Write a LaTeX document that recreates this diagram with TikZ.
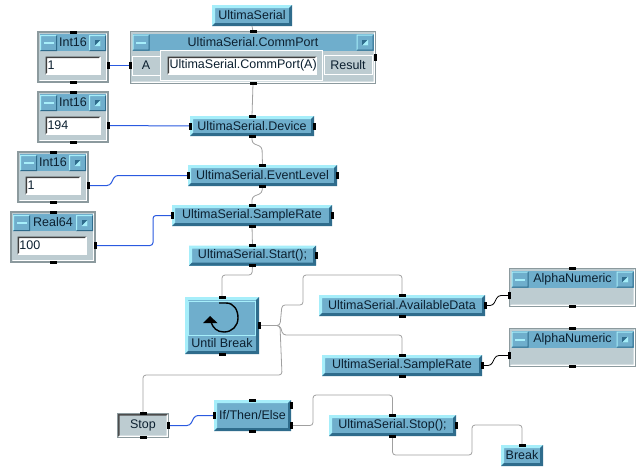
\documentclass[tikz,border=0pt]{standalone}
\usepackage{fontspec}
\setmainfont{Liberation Sans}
\usetikzlibrary{calc}

\definecolor{boxblue}{HTML}{6FAECC}
\definecolor{boxlight}{HTML}{A6EEFA}
\definecolor{boxdark}{HTML}{2F6C8C}
\definecolor{panelgrey}{HTML}{BDCCD1}
\definecolor{edgegrey}{HTML}{8C9A9E}
\definecolor{wiregrey}{HTML}{A0A0A0}
\definecolor{wireblue}{HTML}{2A5AE0}
\definecolor{textdark}{HTML}{0C2030}

\def\ppb{path picture bounding box}
\newcommand{\bevel}[3]{%
  \fill[#2] (\ppb.north west) -- (\ppb.north east) -- ++(-#1,#1) -- ($(\ppb.north west)+(#1,#1)$)
    -- ($(\ppb.south west)+(#1,-#1)$) -- (\ppb.south west) -- cycle;
  \fill[#3] (\ppb.south east) -- (\ppb.north east) -- ++(-#1,#1) -- ($(\ppb.south east)+(-#1,-#1)$)
    -- ($(\ppb.south west)+(#1,-#1)$) -- (\ppb.south west) -- cycle;}

\tikzset{
  allbox/.style={rectangle, inner sep=0pt, outer sep=0pt, text=textdark, font=\fontsize{12.5}{14}\selectfont},
  formula/.style={allbox, fill=boxblue, path picture={\bevel{3}{boxlight}{boxdark}}},
  panel/.style={allbox, fill=panelgrey, draw=edgegrey, line width=1.5pt,
    path picture={\bevel{2}{panelgrey}{white}}},
  titlebar/.style={allbox, fill=boxblue, minimum height=17},
  minbtn/.style={allbox, fill=boxblue, minimum width=17, minimum height=16,
    path picture={\bevel{1}{boxlight}{boxdark}
      \fill[boxlight] ($(\ppb.center)+(-5,-1)$) rectangle ($(\ppb.center)+(5,1)$);}},
  maxbtn/.style={allbox, fill=boxblue, minimum width=17, minimum height=16,
    path picture={\bevel{1}{boxlight}{boxdark}
      \fill[boxdark] ($(\ppb.center)+(-3,-3)$) rectangle ($(\ppb.center)+(3,3)$);
      \fill[boxlight] ($(\ppb.center)+(-3,3)$) -- ($(\ppb.center)+(3,-3)$) -- ($(\ppb.center)+(3,3)$) -- cycle;}},
  valfield/.style={allbox, fill=white, minimum height=18, inner xsep=2pt, text width=51pt, align=left,
    path picture={\bevel{1.5}{black!75}{white}}},
  greybtn/.style={allbox, fill=panelgrey, draw=white, line width=0.8pt, minimum height=19},
  wire/.style={draw=wiregrey, line width=0.8pt, rounded corners=3pt},
  bluewire/.style={draw=wireblue, line width=1pt, rounded corners=3pt},
  blackwire/.style={draw=black, line width=0.8pt, rounded corners=3pt}
}

% window with title bar: name, x, y, width, height, title
\newcommand{\objwin}[6]{%
  \pgfmathsetmacro{\barw}{#4-4}
  \node[panel, minimum width=#4, minimum height=#5] (#1) at (#2,#3) {};
  \node[titlebar, anchor=north, minimum width=\barw] (#1title) at ($(#1.north)+(0,2)$) {#6};
  \node[minbtn, anchor=north west] (#1min) at ($(#1.north west)+(2,3)$) {};
  \node[maxbtn, anchor=north east] (#1max) at ($(#1.north east)+(-2,3)$) {};
}

\begin{document}
\begin{tikzpicture}[x=1pt,y=-1pt]
  \useasboundingbox[fill=white] (0,0) rectangle (640,472);

  % Comm port
  \node[formula, minimum width=80, minimum height=21] (serial) at (252,15.5) {UltimaSerial};
  \objwin{comm}{253}{57.5}{245}{52}{UltimaSerial.CommPort}
  \node[greybtn, minimum width=28] (commA) at (146,65.5) {A};
  \node[allbox, fill=panelgrey, draw=white, line width=1pt, minimum width=162, minimum height=30] (commback) at (241.5,65.5) {};
  \node[valfield, text width=145pt, align=center] (commfield) at (242,65.5) {UltimaSerial.CommPort(A)};
  \node[greybtn, minimum width=48] (commres) at (348,65) {Result};

  % Constants
  \objwin{intA}{73}{57}{70}{50}{Int16}
  \node[valfield] (intAval) at (73,65.5) {1};
  \objwin{intB}{73}{117}{70}{50}{Int16}
  \node[valfield] (intBval) at (73,125.5) {194};
  \objwin{intC}{53}{177}{70}{50}{Int16}
  \node[valfield] (intCval) at (53,185.5) {1};
  \objwin{realA}{53}{237}{84}{50}{Real64}
  \node[valfield, text width=65pt] (realAval) at (52,245.5) {100};
  \coordinate (intAout) at (intA.east |- intAval);
  \coordinate (intBout) at (intB.east |- intBval);
  \coordinate (intCout) at (intC.east |- intCval);
  \coordinate (realAout) at (realA.east |- realAval);

  % Settings chain
  \node[formula, minimum width=124, minimum height=20] (device) at (252,126) {UltimaSerial.Device};
  \node[formula, minimum width=149, minimum height=21] (event) at (262.5,175.5) {UltimaSerial.EventLevel};
  \node[formula, minimum width=160, minimum height=21] (rate) at (252,215.5) {UltimaSerial.SampleRate};
  \node[formula, minimum width=127, minimum height=20] (start) at (252.5,255.5) {UltimaSerial.Start();};

  % Until break
  \node[formula, minimum width=74, minimum height=57] (until) at (222,325.5) {};
  \node[allbox, draw=boxlight, fill=boxblue, line width=0.8pt, minimum width=67, minimum height=34] (untilicon) at (222,318) {};
  \node[allbox] (untillabel) at (222,343.5) {Until Break};
  \draw[line width=1.4pt] (219,303) -- (226,303) .. controls (234,303) and (238,310) .. (238,318)
    .. controls (238,326) and (232,332) .. (224,332) .. controls (217,332) and (213,328) .. (211,322);
  \fill (210,316) -- (217.5,323) -- (203,323) -- cycle;

  % Reading values
  \node[formula, minimum width=166, minimum height=21] (avail) at (402,305.5) {UltimaSerial.AvailableData};
  \node[formula, minimum width=160, minimum height=21] (rateB) at (402,365.5) {UltimaSerial.SampleRate};
  \objwin{alphaA}{572.5}{287.5}{126}{38}{AlphaNumeric}
  \objwin{alphaB}{572.5}{347.5}{126}{38}{AlphaNumeric}
  \coordinate (alphaAin) at ($(alphaA.west)+(0,8)$);
  \coordinate (alphaBin) at ($(alphaB.west)+(0,8)$);

  % Stop branch
  \node[allbox, fill=panelgrey, draw=edgegrey, line width=0.8pt, minimum width=51, minimum height=24,
    path picture={\bevel{2}{black!70}{white}}] (stop) at (143,425.5) {Stop};
  \node[formula, minimum width=77, minimum height=31] (ifte) at (252.5,415.5) {If/Then/Else};
  \coordinate (ifteA) at ($(ifte.east)+(0,-10)$);
  \coordinate (ifteB) at ($(ifte.east)+(0,10)$);
  \node[formula, minimum width=127, minimum height=21] (stopcall) at (392.5,425.5) {UltimaSerial.Stop();};
  \node[formula, minimum width=42, minimum height=21] (break) at (522,455.5) {Break};

  % Wires
  \coordinate (fork) at (280,325.5);
  \draw[bluewire] (intAout) -- (comm.west |- intAout);
  \draw[bluewire] (intBout) -- (device.west);
  \draw[bluewire] (intCout) -- (110,185.5) -- (115,175.5) -- (event.west);
  \draw[bluewire] (realAout) -- (153,245.5) -- (153,215.5) -- (rate.west);
  \draw[bluewire] (stop.east) -- (190,425.5) -- (195,415.5) -- (ifte.west);
  \draw[wire] (serial.south) -- (comm.north);
  \draw[wire] (comm.south) -- (device.north);
  \draw[wire] (device.south) -- (252,143) -- (262,147) -- (event.north);
  \draw[wire] (event.south) -- (262,193) -- (252,197) -- (rate.north);
  \draw[wire] (rate.south) -- (start.north);
  \draw[wire] (start.south) -- (252,275) -- (222,275) -- (until.north);
  \draw[wire] (until.east) -- (fork) -- (282,305) -- (303,305) -- (303,275) -- (402,275) -- (avail.north);
  \draw[wire] (until.east) -- (fork) -- (283,335) -- (402,335) -- (rateB.north);
  \draw[wire] (until.east) -- (fork) -- (282,375) -- (143,375) -- (stop.north);
  \draw[wire] (ifteB) -- (313,425.5) -- (313,395) -- (392.5,395) -- (stopcall.north);
  \draw[wire] (stopcall.south) -- (392.5,455) -- (472,455) -- (472,425) -- (522,425) -- (break.north);
  \draw[blackwire] (avail.east) -- (493,305.5) -- (498,295.5) -- (alphaAin);
  \draw[blackwire] (rateB.east) -- (491,365.5) -- (496,355.5) -- (alphaBin);

  % Pins
  \foreach \pt in {comm.north, comm.south, intA.north, intA.south, intB.north, intB.south,
    intC.north, intC.south, realA.north, realA.south, device.north, device.south, event.north, event.south,
    rate.north, rate.south, start.north, start.south, until.north, until.south, avail.north, avail.south,
    rateB.north, rateB.south, alphaA.north, alphaA.south, alphaB.north, alphaB.south,
    stop.north, stop.south, ifte.north, ifte.south, stopcall.north, stopcall.south, break.north}
    \fill ($(\pt)+(-3.5,-1.5)$) rectangle ($(\pt)+(3.5,1.5)$);
  \foreach \pt in {comm.east, device.west, device.east, event.west, event.east,
    rate.west, rate.east, start.east, until.east, avail.east, rateB.east, stop.east,
    ifte.west, ifteA, ifteB, stopcall.east, intAout, intBout, intCout, realAout, alphaAin, alphaBin}
    \fill ($(\pt)+(-1.5,-3.5)$) rectangle ($(\pt)+(1.5,3.5)$);
  \fill ($(comm.west |- intAout)+(-1.5,-3.5)$) rectangle ($(comm.west |- intAout)+(1.5,3.5)$);
\end{tikzpicture}
\end{document}
